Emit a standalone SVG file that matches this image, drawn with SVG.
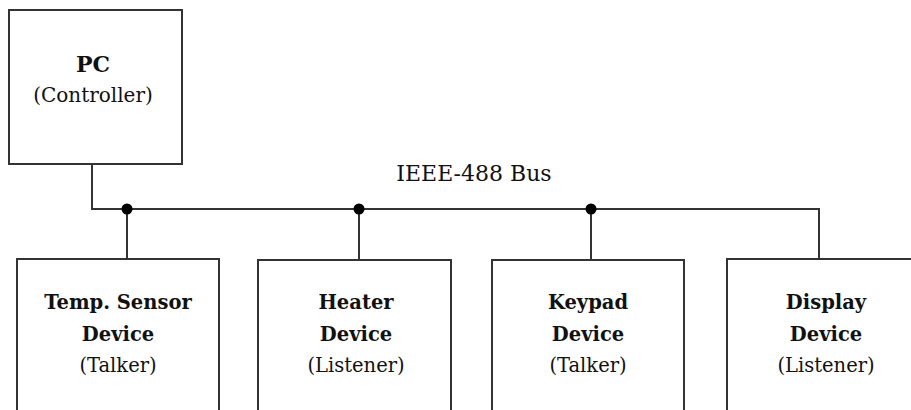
<svg xmlns="http://www.w3.org/2000/svg" width="911" height="410" viewBox="0 0 911 410">
<style>
.box{fill:#fff;stroke:#333;stroke-width:2}
.wire{fill:none;stroke:#333;stroke-width:2}
.dot{fill:#000}
text{font-family:"DejaVu Serif","Liberation Serif",serif;fill:#111;text-anchor:middle}
.b{font-weight:bold;font-size:19.5px}
.r{font-size:19.5px}
</style>
<g id="connectors">
<polyline class="wire" points="92,164 92,209 819,209 819,259"/>
<line class="wire" x1="127" y1="209" x2="127" y2="259"/>
<line class="wire" x1="359" y1="209" x2="359" y2="260"/>
<line class="wire" x1="591" y1="209" x2="591" y2="260"/>
<circle class="dot" cx="127" cy="209" r="5.5"/>
<circle class="dot" cx="359" cy="209" r="5.5"/>
<circle class="dot" cx="591" cy="209" r="5.5"/>
<text x="474" y="181" style="font-size:22px">IEEE-488 Bus</text>
</g>
<g id="pc">
<rect class="box" x="9" y="10" width="173" height="154"/>
<text x="93" y="72" style="font-size:22px;font-weight:bold">PC</text>
<text x="93" y="102" style="font-size:20px">(Controller)</text>
</g>
<g id="temp">
<rect class="box" x="17" y="259" width="202" height="170"/>
<text class="b" x="118" y="309">Temp. Sensor</text>
<text class="b" x="118" y="341">Device</text>
<text class="r" x="118" y="372">(Talker)</text>
</g>
<g id="heater">
<rect class="box" x="258" y="260" width="193" height="170"/>
<text class="b" x="356" y="309">Heater</text>
<text class="b" x="356" y="341">Device</text>
<text class="r" x="356" y="372">(Listener)</text>
</g>
<g id="keypad">
<rect class="box" x="492" y="260" width="192" height="170"/>
<text class="b" x="588" y="309">Keypad</text>
<text class="b" x="588" y="341">Device</text>
<text class="r" x="588" y="372">(Talker)</text>
</g>
<g id="display">
<rect class="box" x="727" y="259" width="200" height="170"/>
<text class="b" x="826" y="309">Display</text>
<text class="b" x="826" y="341">Device</text>
<text class="r" x="826" y="372">(Listener)</text>
</g>
</svg>
